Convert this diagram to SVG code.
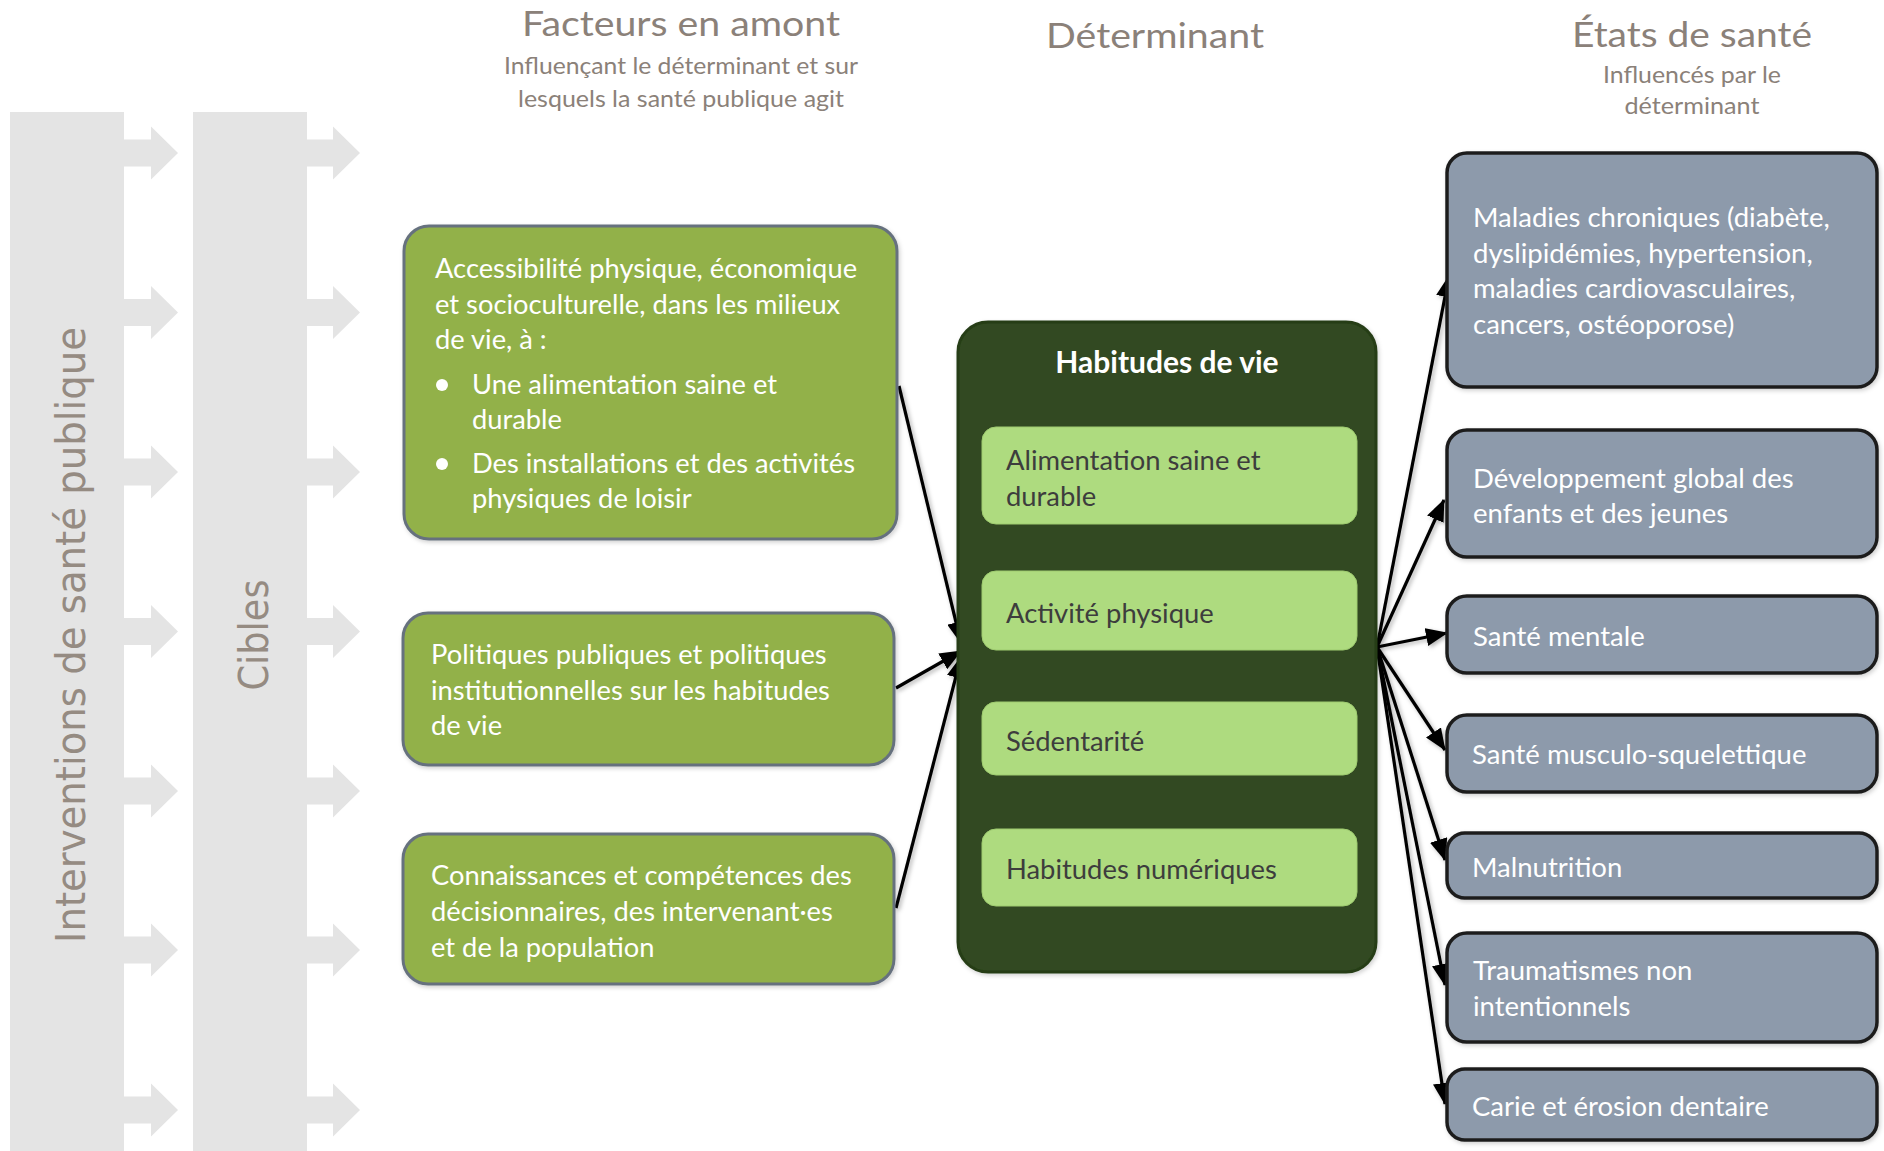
<svg xmlns="http://www.w3.org/2000/svg" xmlns:xlink="http://www.w3.org/1999/xlink" width="1884" height="1151" viewBox="0 0 1884 1151">
<defs>
<style>
.hdr{font-family:Lato,"Liberation Sans",sans-serif;fill:#8b8179;font-size:34px;text-anchor:middle}
.sub{font-family:Lato,"Liberation Sans",sans-serif;fill:#8b8179;font-size:23px;text-anchor:middle}
.vert{font-family:"DejaVu Sans",sans-serif;fill:#958b82;font-size:40px;text-anchor:middle}
.bar{fill:#e4e4e4}
.gbox{fill:#92b14a;stroke:#66717e;stroke-width:3}
.wt{font-family:Lato,"Liberation Sans",sans-serif;font-size:27.3px;fill:#ffffff}
.rt{font-family:Lato,"Liberation Sans",sans-serif;font-size:27.5px;fill:#ffffff}
.dbox{fill:#304a20;stroke:#263d17;stroke-width:3}
.lbox{fill:#aedb7f;stroke:#9fcc70;stroke-width:1}
.dt{font-family:Lato,"Liberation Sans",sans-serif;font-size:27.4px;fill:#3d3d3d}
.rbox{fill:#8d9aab;stroke:#1f1f1f;stroke-width:3.5}
.conn{stroke:#000;stroke-width:3.2;fill:none;marker-end:url(#ah)}
</style>
<marker id="ah" markerUnits="userSpaceOnUse" markerWidth="22" markerHeight="18" viewBox="0 0 22 18" refX="21" refY="9" orient="auto"><path d="M0,0 L22,9 L0,18 z" fill="#000"/></marker>
<polygon id="garrow" points="0,-13.5 27,-13.5 27,-26.5 54,0 27,26.5 27,13.5 0,13.5" fill="#e4e4e4"/>
<filter id="sh" x="-20%" y="-20%" width="140%" height="140%"><feDropShadow dx="2" dy="2" stdDeviation="2" flood-color="#000" flood-opacity="0.3"/></filter>
<filter id="bsh" x="-10%" y="-10%" width="120%" height="120%"><feDropShadow dx="1.5" dy="2" stdDeviation="2" flood-color="#000" flood-opacity="0.18"/></filter>
</defs>

<g id="headers">
<text class="hdr" x="681" y="36" textLength="318" lengthAdjust="spacingAndGlyphs">Facteurs en amont</text>
<text class="sub" x="681" y="74" textLength="354" lengthAdjust="spacingAndGlyphs">Influençant le déterminant et sur</text>
<text class="sub" x="681" y="107" textLength="326" lengthAdjust="spacingAndGlyphs">lesquels la santé publique agit</text>
<text class="hdr" x="1155" y="48" textLength="218" lengthAdjust="spacingAndGlyphs">Déterminant</text>
<text class="hdr" x="1692" y="47" textLength="240" lengthAdjust="spacingAndGlyphs">États de santé</text>
<text class="sub" x="1692" y="83" textLength="178" lengthAdjust="spacingAndGlyphs">Influencés par le</text>
<text class="sub" x="1692" y="114" textLength="135" lengthAdjust="spacingAndGlyphs">déterminant</text>
</g>

<g id="interventions">
<rect class="bar" x="10" y="112" width="114" height="1039"/>
<text class="vert" transform="translate(85,635) rotate(-90)" textLength="616" lengthAdjust="spacingAndGlyphs">Interventions de santé publique</text>
<use xlink:href="#garrow" href="#garrow" x="124" y="153"/>
<use xlink:href="#garrow" href="#garrow" x="124" y="312.5"/>
<use xlink:href="#garrow" href="#garrow" x="124" y="472"/>
<use xlink:href="#garrow" href="#garrow" x="124" y="631.5"/>
<use xlink:href="#garrow" href="#garrow" x="124" y="791"/>
<use xlink:href="#garrow" href="#garrow" x="124" y="950"/>
<use xlink:href="#garrow" href="#garrow" x="124" y="1110"/>
</g>

<g id="cibles">
<rect class="bar" x="193" y="112" width="114" height="1039"/>
<text class="vert" transform="translate(268,635) rotate(-90)" textLength="111" lengthAdjust="spacingAndGlyphs">Cibles</text>
<use xlink:href="#garrow" href="#garrow" x="306" y="153"/>
<use xlink:href="#garrow" href="#garrow" x="306" y="312.5"/>
<use xlink:href="#garrow" href="#garrow" x="306" y="472"/>
<use xlink:href="#garrow" href="#garrow" x="306" y="631.5"/>
<use xlink:href="#garrow" href="#garrow" x="306" y="791"/>
<use xlink:href="#garrow" href="#garrow" x="306" y="950"/>
<use xlink:href="#garrow" href="#garrow" x="306" y="1110"/>
</g>

<g id="connectors" filter="url(#sh)">
<line class="conn" x1="899" y1="386" x2="961" y2="643"/>
<line class="conn" x1="896" y1="688" x2="961" y2="651"/>
<line class="conn" x1="896" y1="908" x2="961" y2="657"/>
<line class="conn" x1="1377" y1="647" x2="1449" y2="276"/>
<line class="conn" x1="1377" y1="647" x2="1444" y2="500"/>
<line class="conn" x1="1377" y1="647" x2="1447" y2="633"/>
<line class="conn" x1="1377" y1="647" x2="1445" y2="750"/>
<line class="conn" x1="1377" y1="647" x2="1445" y2="860"/>
<line class="conn" x1="1377" y1="647" x2="1445" y2="985"/>
<line class="conn" x1="1377" y1="647" x2="1445" y2="1104"/>
</g>

<g id="facteur-accessibilite">
<rect class="gbox" x="404" y="226" width="493" height="313" rx="25" filter="url(#bsh)"/>
<text class="wt" x="435" y="278">Accessibilité physique, économique</text>
<text class="wt" x="435" y="313.5">et socioculturelle, dans les milieux</text>
<text class="wt" x="435" y="349">de vie, à :</text>
<circle cx="442" cy="385" r="6" fill="#fff"/>
<text class="wt" x="472" y="394">Une alimentation saine et</text>
<text class="wt" x="472" y="429">durable</text>
<circle cx="442" cy="464" r="6" fill="#fff"/>
<text class="wt" x="472" y="473">Des installations et des activités</text>
<text class="wt" x="472" y="508">physiques de loisir</text>
</g>

<g id="facteur-politiques">
<rect class="gbox" x="403" y="613" width="491" height="152" rx="25" filter="url(#bsh)"/>
<text class="wt" x="431" y="664">Politiques publiques et politiques</text>
<text class="wt" x="431" y="700">institutionnelles sur les habitudes</text>
<text class="wt" x="431" y="735">de vie</text>
</g>

<g id="facteur-connaissances">
<rect class="gbox" x="403" y="834" width="491" height="150" rx="25" filter="url(#bsh)"/>
<text class="wt" x="431" y="885">Connaissances et compétences des</text>
<text class="wt" x="431" y="921">décisionnaires, des intervenant·es</text>
<text class="wt" x="431" y="957">et de la population</text>
</g>

<g id="determinant">
<rect class="dbox" x="958" y="322" width="418" height="650" rx="30" filter="url(#bsh)"/>
<text x="1167" y="373" font-family="Lato, 'Liberation Sans', sans-serif" font-weight="bold" font-size="30" fill="#fff" text-anchor="middle">Habitudes de vie</text>
</g>
<g id="det-alimentation">
<rect class="lbox" x="982" y="427" width="375" height="97" rx="14"/>
<text class="dt" x="1006" y="470">Alimentation saine et</text>
<text class="dt" x="1006" y="506">durable</text>
</g>
<g id="det-activite">
<rect class="lbox" x="982" y="571" width="375" height="79" rx="14"/>
<text class="dt" x="1006" y="623">Activité physique</text>
</g>
<g id="det-sedentarite">
<rect class="lbox" x="982" y="702" width="375" height="73" rx="14"/>
<text class="dt" x="1006" y="751">Sédentarité</text>
</g>
<g id="det-numeriques">
<rect class="lbox" x="982" y="829" width="375" height="77" rx="14"/>
<text class="dt" x="1006" y="879">Habitudes numériques</text>
</g>

<g id="etat-maladies">
<rect class="rbox" x="1447" y="153" width="430" height="234" rx="20" filter="url(#bsh)"/>
<text class="rt" x="1473" y="227">Maladies chroniques (diabète,</text>
<text class="rt" x="1473" y="263">dyslipidémies, hypertension,</text>
<text class="rt" x="1473" y="298">maladies cardiovasculaires,</text>
<text class="rt" x="1473" y="334">cancers, ostéoporose)</text>
</g>
<g id="etat-developpement">
<rect class="rbox" x="1447" y="430" width="430" height="127" rx="20" filter="url(#bsh)"/>
<text class="rt" x="1473" y="488">Développement global des</text>
<text class="rt" x="1473" y="523">enfants et des jeunes</text>
</g>
<g id="etat-mentale">
<rect class="rbox" x="1447" y="596" width="430" height="77" rx="20" filter="url(#bsh)"/>
<text class="rt" x="1473" y="646">Santé mentale</text>
</g>
<g id="etat-musculo">
<rect class="rbox" x="1447" y="715" width="430" height="77" rx="20" filter="url(#bsh)"/>
<text class="rt" x="1472" y="764">Santé musculo-squelettique</text>
</g>
<g id="etat-malnutrition">
<rect class="rbox" x="1447" y="833" width="430" height="65" rx="18" filter="url(#bsh)"/>
<text class="rt" x="1472" y="877">Malnutrition</text>
</g>
<g id="etat-traumatismes">
<rect class="rbox" x="1447" y="933" width="430" height="109" rx="20" filter="url(#bsh)"/>
<text class="rt" x="1473" y="980">Traumatismes non</text>
<text class="rt" x="1473" y="1016">intentionnels</text>
</g>
<g id="etat-carie">
<rect class="rbox" x="1447" y="1069" width="430" height="71" rx="18" filter="url(#bsh)"/>
<text class="rt" x="1472" y="1116">Carie et érosion dentaire</text>
</g>
</svg>
